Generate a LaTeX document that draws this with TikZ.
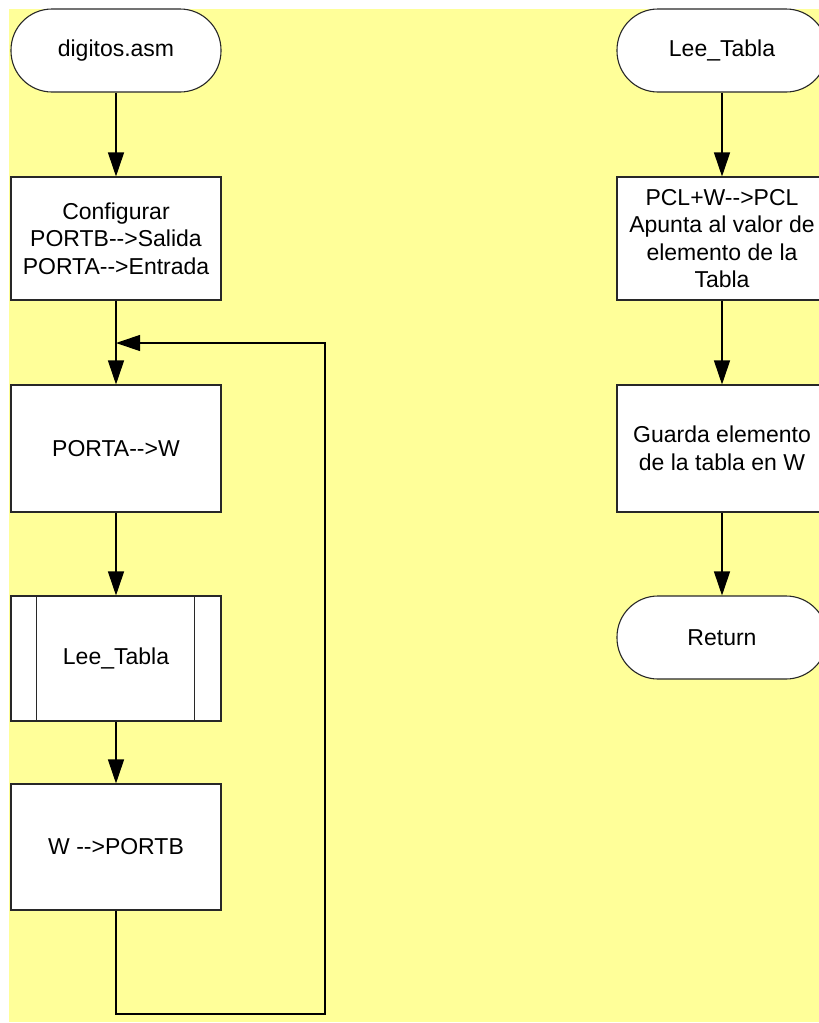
\documentclass[tikz,border=0pt]{standalone}
\usepackage{fontspec}
\setmainfont{Liberation Sans}[Ligatures=TeXOff]
\usetikzlibrary{arrows.meta,calc}
\definecolor{pagebg}{RGB}{255,255,153}
\definecolor{edge}{RGB}{40,40,40}
\begin{document}
\begin{tikzpicture}[x=1pt,y=-1pt,
  every node/.style={font=\fontsize{23}{27.5}\selectfont, align=center, inner sep=0pt},
  frame/.style={draw=edge, line width=1.1pt, fill=white},
  proc/.style={frame, minimum width=210pt},
  term/.style={frame, minimum width=210pt, minimum height=83pt, rounded corners=41pt},
  flow/.style={draw=black, line width=1.1pt, -{Triangle[length=24pt,width=16pt]}},
  link/.style={draw=black, line width=1.1pt}]
\useasboundingbox (0,0) rectangle (819,1023);
\clip (0,0) rectangle (819,1023);
\fill[pagebg] (9,9) rectangle (819,1022);

% main program
\node[term] (start) at (116,50.5) {digitos.asm};
\node[proc, minimum height=123pt] (cfg) at (116,238.5) {Configurar\\PORTB-->Salida\\PORTA-->Entrada};
\node[proc, minimum height=127pt] (rd) at (116,448.5) {PORTA-->W};
\node[proc, minimum height=125pt] (sub) at (116,658.5) {Lee\_Tabla};
\draw[edge, line width=1.1pt] ($(sub.north west)+(26,0)$) -- ($(sub.south west)+(26,0)$)
  ($(sub.north east)+(-27,0)$) -- ($(sub.south east)+(-27,0)$);
\node[proc, minimum height=126pt] (wr) at (116,847) {W -->PORTB};

\coordinate (m) at (116,343);
\coordinate (lr) at (325,1014);

\draw[flow] (start) -- (cfg);
\draw[link] (cfg) -- (m);
\draw[flow] (m) -- (rd);
\draw[flow] (rd) -- (sub);
\draw[flow] (sub) -- (wr);
\draw[flow] (wr.south) |- (lr) |- (m);

% subroutine
\node[term] (lt) at (722,50.5) {Lee\_Tabla};
\node[proc, minimum height=123pt] (pcl) at (722,238.5) {PCL+W-->PCL\\Apunta al valor de\\elemento de la\\Tabla};
\node[proc, minimum height=127pt] (gd) at (722,448.5) {Guarda elemento\\de la tabla en W};
\node[term] (ret) at (722,637.5) {Return};

\draw[flow] (lt) -- (pcl);
\draw[flow] (pcl) -- (gd);
\draw[flow] (gd) -- (ret);
\end{tikzpicture}
\end{document}
